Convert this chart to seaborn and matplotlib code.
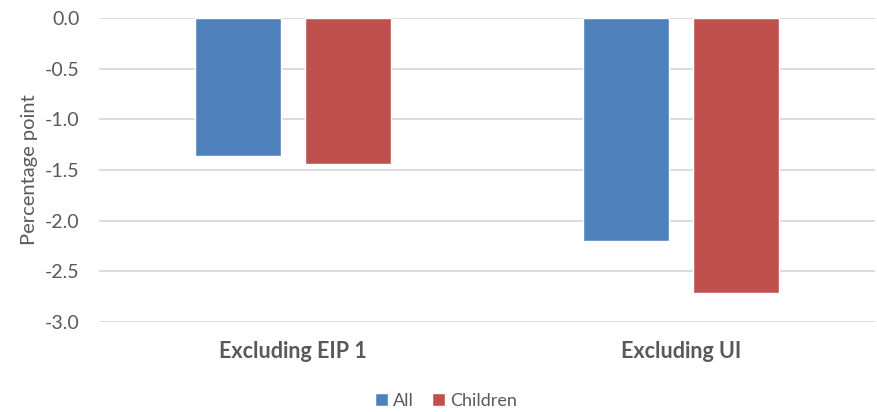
import matplotlib
matplotlib.use("Agg")
import matplotlib.pyplot as plt
import seaborn as sns
import pandas as pd
from matplotlib.patches import Patch

categories = ["Excluding EIP 1", "Excluding UI"]
series = ["All", "Children"]
all_values = [-1.36, -2.20]
children_values = [-1.44, -2.71]
yticks = [0.0, -0.5, -1.0, -1.5, -2.0, -2.5, -3.0]

df = pd.DataFrame({
    "category": categories * 2,
    "series": [series[0]] * 2 + [series[1]] * 2,
    "value": all_values + children_values,
})

sns.set_theme(style="white")
plt.rcParams["font.family"] = ["Lato", "DejaVu Sans"]
text_color = "#595959"

fig = plt.figure(figsize=(8.78, 4.12), dpi=100)
ax = fig.add_axes([99 / 878, 1 - 322 / 412, (875 - 99) / 878, (322 - 18) / 412])

sns.barplot(data=df, x="category", y="value", hue="series", order=categories,
            hue_order=series, palette=["#4F81BD", "#C0504D"], width=0.567,
            gap=0.21, ax=ax, legend=False, saturation=1)

ax.set_xlim(-0.5, 1.5)
ax.set_ylim(-3.0, 0.0)
ax.set_yticks(yticks)
ax.set_yticklabels([f"{t:.1f}" for t in yticks], fontsize=14, color=text_color)
ax.yaxis.grid(True, color="#D9D9D9", linewidth=1.3)
ax.set_axisbelow(True)
for s in ax.spines.values():
    s.set_visible(False)
ax.tick_params(axis="both", length=0)
ax.tick_params(axis="y", pad=14)
ax.tick_params(axis="x", pad=14)
for lab in ax.get_xticklabels():
    lab.set_fontsize(15.5)
    lab.set_fontweight("bold")
    lab.set_color(text_color)
ax.set_xlabel("")
ax.set_ylabel("Percentage point", fontsize=14.5, color=text_color)
ax.yaxis.set_label_coords(-0.079, 0.5)

handles = [Patch(facecolor="#4F81BD", label="All"), Patch(facecolor="#C0504D", label="Children")]
fig.legend(handles=handles, loc="center", bbox_to_anchor=(0.508, 0.027), ncol=2,
           frameon=False, fontsize=13, handlelength=0.7, handleheight=0.7,
           handletextpad=0.3, columnspacing=1.0, labelcolor=text_color)

fig.savefig("out.png", dpi=100)
